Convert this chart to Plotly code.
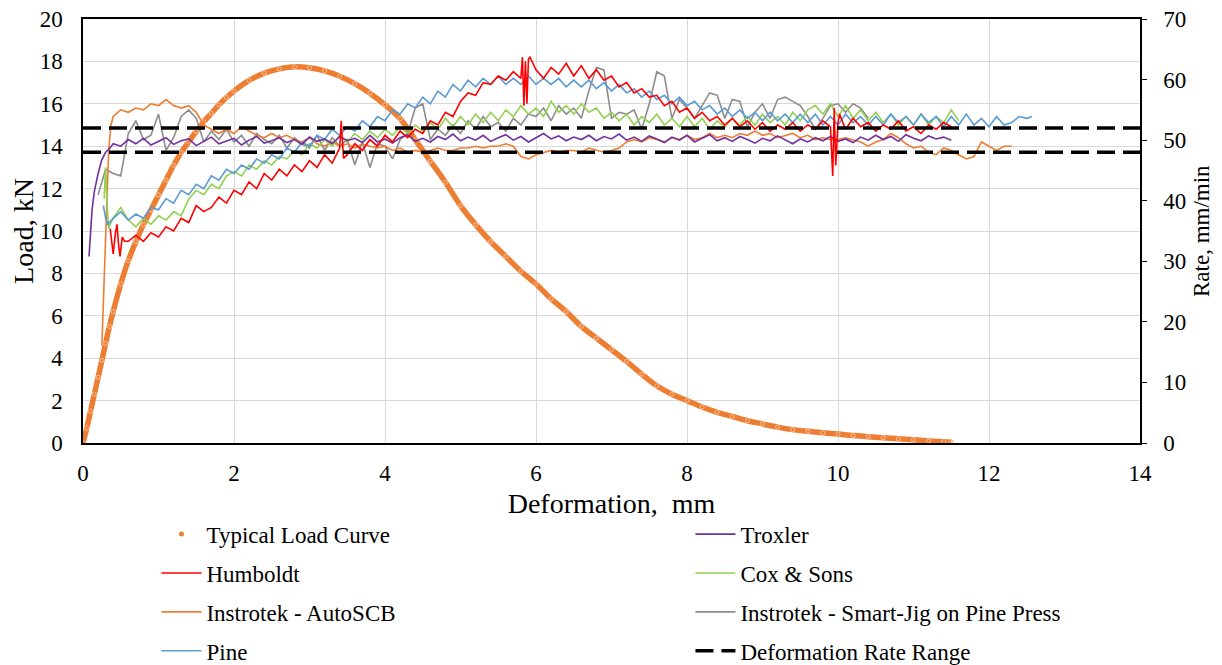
import plotly.graph_objects as go

# ---------------- data ----------------
STEP = 0.1  # sampling interval of the rate records, mm

typ_x = [0, 0.05, 0.1, 0.15, 0.2, 0.25, 0.3, 0.35, 0.4, 0.5, 0.6, 0.7, 0.8, 0.9, 1.0, 1.1, 1.2, 1.3, 1.4,
         1.5, 1.6, 1.7, 1.8, 1.9, 2.0, 2.2, 2.4, 2.6, 2.8, 3.0, 3.2, 3.4, 3.6, 3.8, 4.0, 4.2, 4.4, 4.6, 4.8,
         5.0, 5.2, 5.4, 5.6, 5.8, 6.0, 6.2, 6.4, 6.6, 6.8, 7.0, 7.2, 7.4, 7.6, 7.8, 8.0, 8.2, 8.4, 8.6, 8.8,
         9.0, 9.2, 9.4, 9.6, 9.8, 10.0, 10.2, 10.4, 10.6, 10.8, 11.0, 11.2, 11.4, 11.5]
typ_load = [0, 0.7, 1.5, 2.3, 3.1, 3.9, 4.7, 5.5, 6.2, 7.5, 8.6, 9.5, 10.3, 11.0, 11.7, 12.4, 13.1, 13.7, 14.2,
            14.7, 15.15, 15.55, 15.95, 16.3, 16.6, 17.1, 17.45, 17.65, 17.75, 17.7, 17.55, 17.3, 16.95, 16.5,
            15.95, 15.3, 14.3, 13.3, 12.3, 11.2, 10.3, 9.5, 8.8, 8.1, 7.5, 6.8, 6.2, 5.5, 4.95, 4.4, 3.85, 3.25,
            2.7, 2.3, 2.0, 1.7, 1.45, 1.25, 1.05, 0.9, 0.75, 0.63, 0.55, 0.48, 0.42, 0.35, 0.3, 0.25, 0.2, 0.15,
            0.1, 0.06, 0.04]

# Troxler
trox_head_x = [0.08, 0.1, 0.12, 0.15, 0.2, 0.25, 0.3, 0.35, 0.4]
trox_head_y = [30.8, 35.5, 38.5, 41.5, 44.5, 46.8, 48.0, 48.6, 49.4]
trox_start = 0.5
trox_rate = [49.0, 50.1, 49.4, 50.3, 49.2, 49.8, 50.4, 49.3, 49.9, 50.2, 49.1,
             49.8, 50.5, 49.4, 49.9, 50.3, 49.2, 50.0, 50.6, 49.5, 49.9,
             50.4, 49.6, 50.1, 49.3, 50.5, 49.8, 50.2, 49.4, 50.6, 49.9,
             50.3, 49.6, 50.8, 49.7, 50.2, 49.5, 50.4, 50.9, 49.8, 50.3,
             49.7, 50.6, 50.1, 51.0, 49.9, 50.5, 50.0, 50.8, 49.8, 50.4,
             50.9, 50.0, 50.6, 49.7, 50.4, 51.1, 50.2, 50.7, 49.9, 50.5,
             50.1, 50.8, 49.9, 50.6, 50.2, 51.0, 50.0, 50.5, 49.8, 50.7,
             50.2, 49.6, 50.5, 50.0, 50.8, 49.7, 50.3, 50.9, 49.9, 50.4,
             49.8, 50.6, 50.1, 49.5, 50.3, 49.9, 50.7, 50.0, 49.4, 50.2,
             49.7, 50.4, 49.9, 50.6, 49.8, 50.2, 49.6, 50.5, 50.0, 50.8,
             50.1, 50.6, 49.8, 50.9, 50.3, 49.9, 50.7, 50.2, 50.5, 50.0]

# Humboldt
humb_head_x = [0.36, 0.38, 0.40, 0.43, 0.45, 0.47, 0.49, 0.52, 0.55]
humb_head_y = [35.4, 33.6, 31.2, 34.7, 36.1, 32.9, 30.8, 34.0, 33.3]
humb_start = 0.6
humb_rate = [33.3, 34.3, 33.3, 34.7, 34.0, 35.7, 35.0, 37.1, 36.4, 39.2,
             38.2, 38.9, 40.6, 39.6, 41.7, 41.0, 43.1, 42.0, 44.5, 43.4,
             45.2, 44.1, 45.9, 44.8, 46.6, 45.5, 47.6, 46.2, 48.7, 47.6,
             49.4, 48.3, 50.1, 49.0, 50.8, 49.7, 51.5, 50.4, 51.8, 51.1,
             53.2, 52.5, 54.6, 53.9, 56.4, 57.8, 57.4, 59.5, 59.2, 60.6,
             59.9, 61.3, 60.2, 63.4, 61.6, 60.2, 62.0, 60.9, 62.7, 60.6,
             62.3, 60.2, 61.6, 59.9, 60.6, 58.8, 59.5, 57.8, 58.5, 57.1,
             57.4, 55.7, 56.4, 54.6, 55.3, 53.6, 54.6, 53.2, 53.9, 52.5,
             53.6, 52.2, 53.2, 51.8, 52.9, 51.5, 52.5, 51.8, 52.9, 51.5,
             52.5, 51.8, 53.2, 52.2, 52.9, 51.8, 53.6, 52.2, 52.9, 51.5,
             52.5, 51.8, 53.2, 51.5, 52.2, 51.1, 52.5, 51.8, 52.9, 52.2]
humb_spike_x = [3.42, 3.45, 5.82, 5.84, 5.86, 5.88, 5.92, 9.93, 9.95, 9.97, 10.02]
humb_spike_y = [53.2, 47.0, 63.7, 55.7, 63.0, 56.0, 63.7, 44.1, 55.3, 45.8, 54.3]

# Cox & Sons
cox_head_x = [0.28, 0.30, 0.32, 0.34, 0.37]
cox_head_y = [40.3, 45.5, 39.2, 35.4, 36.4]
cox_start = 0.4
cox_rate = [37.1, 38.9, 36.8, 35.7, 37.1, 36.1, 37.5, 36.8, 38.2, 37.5,
            40.3, 41.7, 41.0, 42.7, 42.0, 44.1, 44.8, 44.1, 45.9, 45.2,
            46.6, 45.9, 47.3, 46.9, 48.3, 47.6, 49.4, 48.7, 50.1, 49.0,
            50.8, 49.7, 51.1, 50.1, 51.5, 50.4, 51.8, 50.8, 52.2, 51.1,
            52.5, 51.5, 52.9, 51.8, 53.6, 52.2, 53.9, 52.5, 54.3, 52.9,
            54.6, 53.2, 55.0, 53.9, 55.7, 54.3, 55.3, 53.9, 56.4, 54.6,
            55.7, 54.3, 56.0, 54.6, 55.3, 53.6, 54.6, 53.2, 54.3, 52.5,
            53.9, 52.9, 54.3, 52.5, 53.6, 52.2, 53.9, 52.2, 53.6, 51.8,
            53.2, 52.2, 53.6, 52.5, 53.9, 52.5, 54.3, 52.9, 53.9, 52.5,
            54.6, 53.2, 55.0, 55.7, 54.3, 56.0, 53.9, 55.7, 53.6, 55.0,
            53.2, 54.6, 52.9, 54.3, 52.5, 53.9, 52.5, 54.3, 52.5, 53.9,
            52.9, 55.0, 53.2]

# Instrotek - AutoSCB
auto_head_x = [0.25, 0.28, 0.31, 0.34, 0.37]
auto_head_y = [16.1, 28.0, 40.3, 48.3, 52.5]
auto_start = 0.4
auto_rate = [53.9, 55.0, 54.6, 55.3, 55.0, 56.0, 55.7, 56.7, 55.7, 55.3,
             55.7, 54.6, 52.5, 51.8, 51.1, 51.8, 51.1, 52.2, 51.5, 50.8,
             50.4, 51.1, 50.4, 50.8, 50.1, 49.7, 50.4, 49.4, 49.0, 49.7,
             49.0, 49.4, 48.7, 49.4, 49.0, 48.7, 49.0, 48.3, 48.7, 48.0,
             48.3, 48.0, 48.3, 48.7, 48.3, 48.3, 48.7, 48.7, 49.0, 48.7,
             49.0, 49.0, 49.4, 49.0, 47.3, 46.9, 47.6, 48.0, 48.3, 48.0,
             48.3, 48.3, 48.0, 48.7, 48.3, 48.0, 48.3, 48.7, 49.7, 50.1,
             49.7, 50.4, 50.1, 49.7, 50.4, 50.1, 50.8, 50.1, 50.4, 51.1,
             50.4, 50.8, 50.4, 51.1, 50.8, 51.5, 50.8, 51.1, 50.4, 50.8,
             51.1, 50.4, 50.8, 50.1, 50.4, 50.1, 50.1, 50.4, 50.1, 49.7,
             49.0, 49.7, 50.1, 51.1, 50.4, 49.4, 48.7, 49.0, 48.0, 47.6,
             48.7, 48.3, 47.6, 46.9, 47.3, 49.7, 49.0, 48.3, 49.0, 49.0]

# Instrotek - Smart-Jig on Pine Press
jig_start = 0.2
jig_rate = [41.0, 45.2, 44.5, 44.1, 51.1, 53.2, 50.1, 50.8, 54.3, 48.3,
            50.4, 53.9, 55.0, 53.6, 49.7, 51.5, 50.1, 51.8, 49.7, 50.8,
            49.0, 51.1, 50.1, 49.4, 50.8, 48.7, 50.4, 49.4, 48.7, 50.8,
            48.3, 50.4, 49.0, 50.1, 45.9, 49.7, 45.5, 49.4, 49.0, 46.9,
            50.1, 51.1, 55.3, 56.0, 50.1, 51.8, 50.8, 52.5, 51.1, 53.2,
            51.8, 53.9, 52.2, 52.9, 51.5, 53.6, 52.5, 54.3, 53.9, 55.3,
            53.2, 55.7, 54.3, 55.3, 53.6, 58.1, 62.0, 61.6, 53.6, 54.6,
            54.3, 55.0, 51.8, 56.0, 61.3, 60.6, 53.6, 56.7, 55.3, 53.6,
            55.7, 57.8, 57.4, 53.6, 56.7, 56.4, 52.2, 54.6, 56.0, 53.6,
            56.7, 57.1, 56.4, 55.7, 53.9, 51.8, 53.6, 55.7, 56.0, 54.6,
            56.0, 55.3, 53.6]

# Pine
pine_head_x = [0.27, 0.30, 0.33]
pine_head_y = [39.2, 37.1, 36.1]
pine_start = 0.4
pine_rate = [37.1, 38.2, 36.8, 37.8, 37.1, 38.9, 38.5, 40.3, 39.6, 41.7,
             41.0, 42.7, 42.0, 44.1, 43.4, 45.2, 44.5, 45.9, 45.2, 46.9,
             46.2, 47.6, 46.9, 48.7, 48.0, 49.7, 49.0, 50.8, 50.1, 51.8,
             50.8, 52.2, 51.5, 53.2, 52.2, 53.9, 53.2, 55.0, 54.3, 56.0,
             55.3, 57.1, 56.0, 58.1, 57.1, 59.2, 58.1, 59.9, 58.8, 60.2,
             59.2, 60.6, 59.2, 60.2, 59.2, 60.6, 59.2, 60.2, 59.2, 60.2,
             58.8, 59.9, 58.8, 59.9, 58.5, 59.5, 58.1, 59.2, 57.8, 58.5,
             57.1, 58.1, 56.7, 57.4, 56.0, 57.1, 55.7, 56.4, 55.0, 55.7,
             54.3, 55.3, 53.9, 55.0, 53.6, 54.6, 53.2, 54.6, 53.2, 54.3,
             52.9, 54.3, 52.9, 54.3, 52.5, 53.9, 52.5, 54.3, 52.9, 53.9,
             52.5, 53.9, 52.5, 54.3, 52.9, 53.9, 52.5, 54.3, 52.9, 53.9,
             52.2, 53.9, 52.5, 54.3, 52.5, 53.6, 52.2, 53.9, 52.5, 52.9,
             53.9, 53.6]
pine_tail_x = [12.57]
pine_tail_y = [53.9]

rate_range = [48, 52]
x_range = [0, 14]

# ---------------- helpers ----------------
def grid(start, n, step=STEP):
    return [round(start + i * step, 3) for i in range(n)]

def merge(xa, ya, xb, yb):
    pts = sorted(zip(list(xa) + list(xb), list(ya) + list(yb)))
    return [p[0] for p in pts], [p[1] for p in pts]

FONT = "Liberation Serif"
FS = 23

fig = go.Figure()

def rate_trace(name, x, y, color, legend, rank):
    fig.add_trace(go.Scatter(x=x, y=y, name=name, mode="lines", yaxis="y2",
                             line=dict(color=color, width=1.6), legend=legend,
                             legendgroup=name, legendrank=rank))

# typical load curve (left axis)
fig.add_trace(go.Scatter(x=typ_x, y=typ_load, mode="lines+markers", showlegend=False,
                         line=dict(color="#ED7D31", width=5.5, shape="spline"),
                         marker=dict(symbol="circle-open", size=4, color="#F4B183",
                                     line=dict(width=1.2, color="#ED7D31"))))

fig.add_trace(go.Scatter(x=[None], y=[None], mode="markers", name="Typical Load Curve",
                         marker=dict(color="#ED7D31", size=5), legend="legend",
                         legendgroup="typ", legendrank=1))

tx, ty = trox_head_x + grid(trox_start, len(trox_rate)), trox_head_y + trox_rate
hx, hy = humb_head_x + grid(humb_start, len(humb_rate)), humb_head_y + humb_rate
hx, hy = merge(hx, hy, humb_spike_x, humb_spike_y)
cx, cy = cox_head_x + grid(cox_start, len(cox_rate)), cox_head_y + cox_rate
ax_, ay = auto_head_x + grid(auto_start, len(auto_rate)), auto_head_y + auto_rate
jx, jy = grid(jig_start, len(jig_rate)), jig_rate
px_, py = pine_head_x + grid(pine_start, len(pine_rate)) + pine_tail_x, pine_head_y + pine_rate + pine_tail_y

rate_trace("Instrotek - Smart-Jig on Pine Press", jx, jy, "#8C8C8C", "legend2", 3)
rate_trace("Instrotek - AutoSCB", ax_, ay, "#ED7D31", "legend", 3)
rate_trace("Cox & Sons", cx, cy, "#92D050", "legend2", 2)
rate_trace("Pine", px_, py, "#5B9BD5", "legend", 4)
rate_trace("Troxler", tx, ty, "#7030A0", "legend2", 1)
rate_trace("Humboldt", hx, hy, "#FF0000", "legend", 2)

for i, r in enumerate(rate_range):
    fig.add_trace(go.Scatter(x=x_range, y=[r, r], mode="lines", yaxis="y2",
                             name="Deformation Rate Range", legend="legend2",
                             legendgroup="range", showlegend=(i == 0), legendrank=4,
                             line=dict(color="black", width=3.5, dash="18px,8px")))

leg_common = dict(font=dict(family=FONT, size=FS, color="black"), orientation="v",
                  traceorder="grouped", tracegroupgap=6, bgcolor="rgba(0,0,0,0)",
                  xanchor="left", yanchor="top", itemwidth=40)

# the page adds an 8px body margin, so the figure is 8px smaller than the window
fig.update_layout(
    width=1214, height=657,
    margin=dict(l=75, r=82, t=11, b=222, autoexpand=False),
    paper_bgcolor="white", plot_bgcolor="white",
    font=dict(family=FONT, size=FS, color="black"),
    xaxis=dict(range=x_range, dtick=2, showgrid=True, gridcolor="#D9D9D9", gridwidth=1.3,
               showline=True, linecolor="black", linewidth=1.5, mirror=True,
               ticks="", zeroline=False, ticklabelstandoff=9, automargin=False,
               ticklabeloverflow="allow",
               title=dict(text="Deformation,\u00a0 mm", standoff=8)),
    yaxis=dict(range=[0, 20], dtick=2, showgrid=True, gridcolor="#D9D9D9", gridwidth=1.3,
               showline=True, linecolor="black", linewidth=1.5, ticks="",
               zeroline=False, ticklabelstandoff=14, automargin=False,
               ticklabeloverflow="allow",
               title=dict(text="Load, kN", standoff=2)),
    yaxis2=dict(range=[0, 70], dtick=10, overlaying="y", side="right", showgrid=False,
                showline=True, linecolor="black", linewidth=1.5, ticks="outside",
                ticklen=5, tickcolor="black", zeroline=False, ticklabelstandoff=12,
                ticklabeloverflow="allow", automargin=False),
    annotations=[dict(text="Rate, mm/min", xref="paper", yref="paper",
                      x=(1193 - 75) / 1057, y=0.5, textangle=-90, showarrow=False,
                      xanchor="center", yanchor="middle",
                      font=dict(family=FONT, size=FS, color="black"))],
    legend=dict(x=0.0695, y=-0.1643, **leg_common),
    legend2=dict(x=0.5747, y=-0.1643, **leg_common),
    showlegend=True,
)

fig.write_html("out.html")
